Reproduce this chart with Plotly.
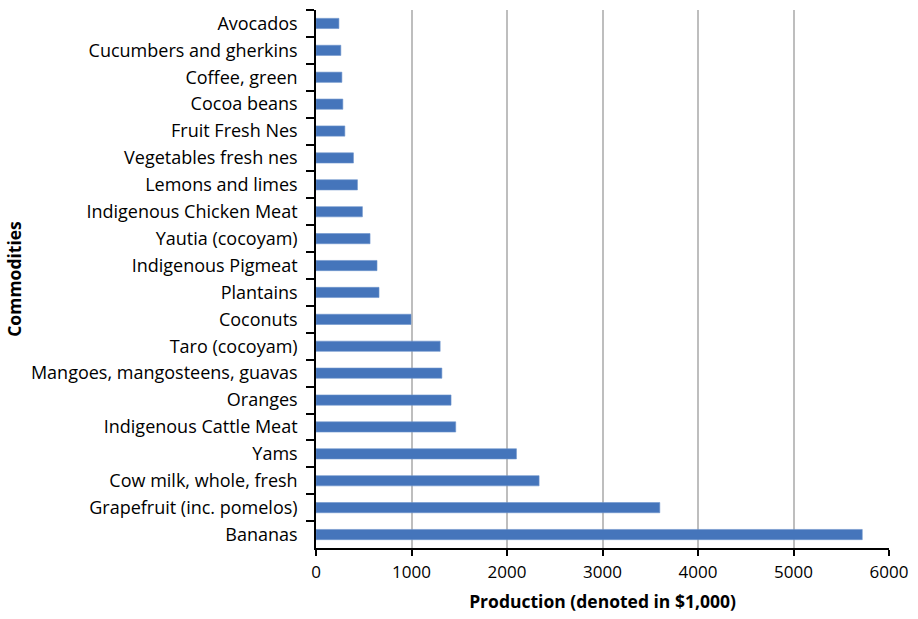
import plotly.graph_objects as go

categories = ["Avocados", "Cucumbers and gherkins", "Coffee, green", "Cocoa beans",
              "Fruit Fresh Nes", "Vegetables fresh nes", "Lemons and limes",
              "Indigenous Chicken Meat", "Yautia (cocoyam)", "Indigenous Pigmeat",
              "Plantains", "Coconuts", "Taro (cocoyam)", "Mangoes, mangosteens, guavas",
              "Oranges", "Indigenous Cattle Meat", "Yams", "Cow milk, whole, fresh",
              "Grapefruit (inc. pomelos)", "Bananas"]
values = [240, 260, 271, 281, 302, 392, 434, 486, 566, 639, 660, 995, 1300, 1318,
          1414, 1463, 2099, 2336, 3600, 5720]
x_ticks = [0, 1000, 2000, 3000, 4000, 5000, 6000]

font_family = "Open Sans, sans-serif"

fig = go.Figure(go.Bar(
    x=values, y=categories, orientation="h",
    marker=dict(color="#4575BB", line=dict(color="#6f95cc", width=0.6)),
    width=0.38,
))

fig.update_layout(
    width=918, height=619,
    margin=dict(l=316, r=27, t=10, b=69),
    plot_bgcolor="white", paper_bgcolor="white",
    showlegend=False,
    font=dict(family=font_family, color="black"),
    bargap=0.6,
)
fig.update_xaxes(
    range=[0, 6000], tickvals=x_ticks, ticktext=[str(v) for v in x_ticks],
    showgrid=True, gridcolor="#BEBEBE", gridwidth=1.5,
    showline=True, linecolor="black", linewidth=1.5,
    ticks="outside", ticklen=6, tickcolor="black", tickwidth=1.5,
    ticklabelstandoff=2,
    tickfont=dict(size=17, family=font_family),
    title=dict(text="<b>Production (denoted in $1,000)</b>",
               font=dict(size=17.5, family=font_family), standoff=14),
    zeroline=False,
)
fig.update_yaxes(
    categoryorder="array", categoryarray=categories, autorange="reversed",
    showline=True, linecolor="black", linewidth=1.5,
    ticks="outside", ticklen=8, tickcolor="black", tickwidth=1.5,
    tickson="boundaries", ticklabelstandoff=13,
    tickfont=dict(size=18, family=font_family),
    showgrid=False,
    title=dict(text="<b>Commodities</b>", font=dict(size=17.5, family=font_family), standoff=5),
)

fig.write_html("out.html")
